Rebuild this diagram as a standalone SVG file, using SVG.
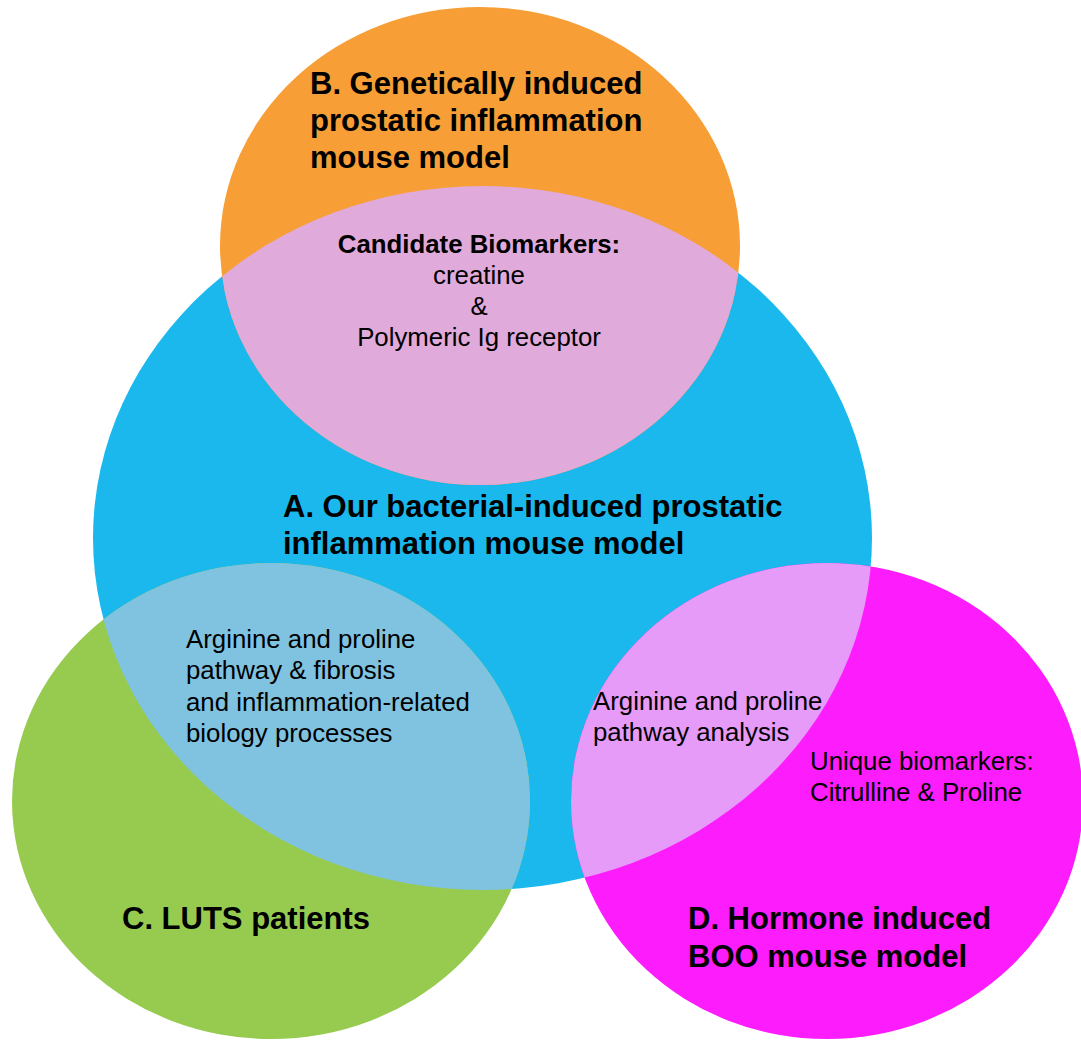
<svg xmlns="http://www.w3.org/2000/svg" width="1081" height="1040" viewBox="0 0 1081 1040">
<style>
.t{font-family:"Liberation Sans",Arial,sans-serif;fill:#000}
.title{font-size:31px;font-weight:bold}
.body{font-size:25.8px}
.bb{font-size:25.8px;font-weight:bold}
</style>
<defs>
<clipPath id="clipA"><ellipse cx="482.5" cy="538" rx="389.5" ry="352"/></clipPath>
</defs>
<rect width="1081" height="1040" fill="#fff"/>
<g id="nodeA"><ellipse cx="482.5" cy="538" rx="389.5" ry="352" fill="#1bb8ee"/></g>
<g id="nodeB"><ellipse cx="480" cy="246" rx="260" ry="239" fill="#f79f36"/></g>
<g id="nodeC"><ellipse cx="271" cy="801" rx="259" ry="238" fill="#96cb50"/></g>
<g id="nodeD"><ellipse cx="827" cy="801" rx="256" ry="238" fill="#fd1cfc"/></g>
<g id="overlapAB"><ellipse cx="480" cy="246" rx="260" ry="239" fill="#e0aadb" clip-path="url(#clipA)"/></g>
<g id="overlapAC"><ellipse cx="271" cy="801" rx="259" ry="238" fill="#80c3e0" clip-path="url(#clipA)"/></g>
<g id="overlapAD"><ellipse cx="827" cy="801" rx="256" ry="238" fill="#e69bf9" clip-path="url(#clipA)"/></g>
<g id="labels">
<text class="t title" x="310" y="94">B. Genetically induced</text>
<text class="t title" x="310" y="131">prostatic inflammation</text>
<text class="t title" x="310" y="168">mouse model</text>
<text class="t bb" x="479" y="253" text-anchor="middle">Candidate Biomarkers:</text>
<text class="t body" x="479" y="284" text-anchor="middle">creatine</text>
<text class="t body" x="479" y="315" text-anchor="middle">&amp;</text>
<text class="t body" x="479" y="346" text-anchor="middle">Polymeric Ig receptor</text>
<text class="t title" x="283" y="517">A. Our bacterial-induced prostatic</text>
<text class="t title" x="283" y="554">inflammation mouse model</text>
<text class="t body" x="186" y="648">Arginine and proline</text>
<text class="t body" x="186" y="679">pathway &amp; fibrosis</text>
<text class="t body" x="186" y="711">and inflammation-related</text>
<text class="t body" x="186" y="742">biology processes</text>
<text class="t body" x="593" y="710">Arginine and proline</text>
<text class="t body" x="593" y="741">pathway analysis</text>
<text class="t body" x="810" y="770">Unique biomarkers:</text>
<text class="t body" x="810" y="801">Citrulline &amp; Proline</text>
<text class="t title" x="122" y="929">C. LUTS patients</text>
<text class="t title" x="688" y="929">D. Hormone induced</text>
<text class="t title" x="688" y="967">BOO mouse model</text>
</g>
</svg>
